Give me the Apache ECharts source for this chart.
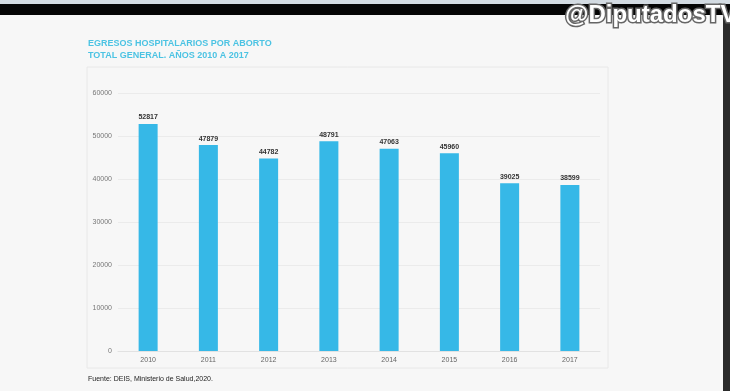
<!DOCTYPE html>
<html>
<head>
<meta charset="utf-8">
<script src="https://cdn.jsdelivr.net/npm/echarts@6/dist/echarts.min.js"></script>
<style>
html,body{margin:0;padding:0;background:#f7f7f7;}
#c{width:730px;height:391px;}
</style>
</head>
<body>
<div id="c"></div>
<script>
const years = ['2010','2011','2012','2013','2014','2015','2016','2017'];
const egresos = [52817, 47879, 44782, 48791, 47063, 45960, 39025, 38599];
const yTicks = [0, 10000, 20000, 30000, 40000, 50000, 60000];
const titleLines = ['EGRESOS HOSPITALARIOS POR ABORTO', 'TOTAL GENERAL. AÑOS 2010 A 2017'];
const sourceText = 'Fuente: DEIS, Ministerio de Salud,2020.';
const logoText = '@DiputadosTV';

const chart = echarts.init(document.getElementById('c'), null, {renderer: 'canvas'});
chart.setOption({
  backgroundColor: '#f7f7f7',
  animation: false,
  title: {
    text: titleLines.join('\n'),
    left: 88, top: 38, padding: 0,
    textStyle: {color: '#4cc3e3', fontSize: 9, fontWeight: 'bold', fontFamily: 'Liberation Sans, Arial', lineHeight: 12}
  },
  grid: {left: 118, right: 130, top: 93, bottom: 40},
  xAxis: {
    type: 'category',
    data: years,
    axisLine: {lineStyle: {color: '#e2e2e2'}},
    axisTick: {show: false},
    axisLabel: {color: '#666', fontSize: 7, margin: 6, fontFamily: 'Liberation Sans, Arial'}
  },
  yAxis: {
    type: 'value',
    min: yTicks[0], max: yTicks[yTicks.length - 1], interval: yTicks[1] - yTicks[0],
    axisLine: {show: false},
    axisTick: {show: false},
    splitLine: {lineStyle: {color: '#ebebeb'}},
    axisLabel: {color: '#777', fontSize: 7, margin: 6, fontFamily: 'Liberation Sans, Arial', formatter: v => String(v)}
  },
  series: [{
    type: 'bar',
    data: egresos,
    barWidth: 19,
    itemStyle: {color: '#36b8e7'},
    label: {show: true, position: 'top', distance: 3, color: '#333', fontSize: 7, fontWeight: 'bold', fontFamily: 'Liberation Sans, Arial'}
  }],
  graphic: [
    {type: 'rect', shape: {x: 0, y: 0, width: 730, height: 4}, style: {fill: '#d3dbe2'}, z: 10},
    {type: 'rect', shape: {x: 0, y: 4, width: 730, height: 11}, style: {fill: '#050505'}, z: 10},
    {type: 'rect', shape: {x: 723, y: 15, width: 7, height: 376}, style: {fill: '#2b2b2b'}, z: 10},
    {type: 'rect', shape: {x: 87, y: 67, width: 521, height: 301}, style: {fill: 'none', stroke: '#e8e8e8', lineWidth: 1}, z: -1},
    {type: 'text', left: 88, top: 376, style: {text: sourceText, fill: '#222', fontSize: 7, fontFamily: 'Liberation Sans, Arial'}},
    {type: 'text', x: 565, y: 3, style: {text: logoText, fill: '#ffffff', stroke: '#666', lineWidth: 3, fontSize: 24, fontWeight: 'bold', fontFamily: 'Liberation Sans, Arial'}, z: 20}
  ]
});
</script>
</body>
</html>
